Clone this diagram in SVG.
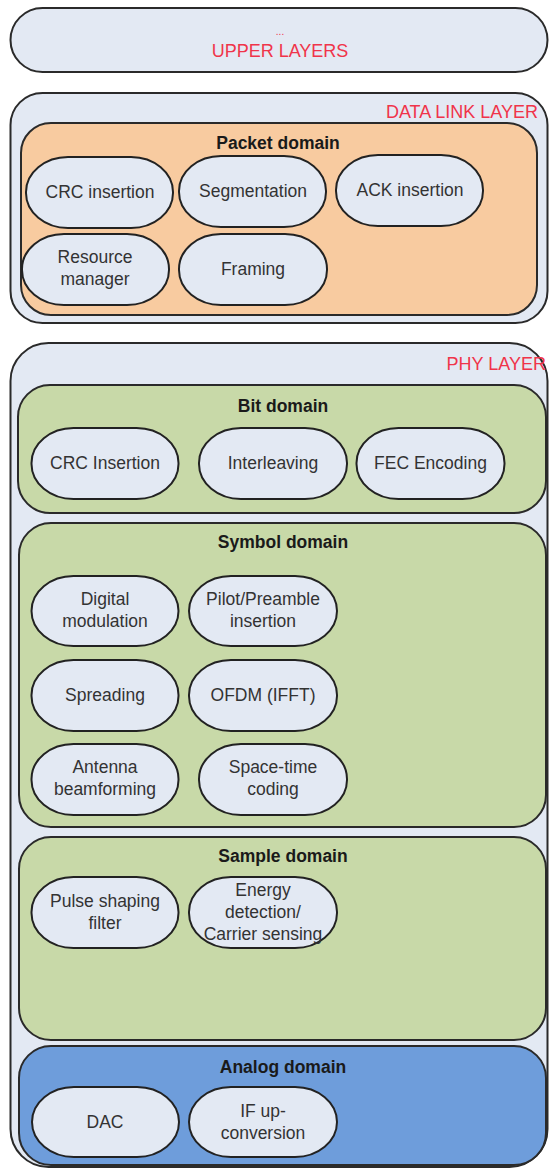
<svg xmlns="http://www.w3.org/2000/svg" width="549" height="1169" viewBox="0 0 549 1169">
<style>
.layer{fill:#e3e9f3;stroke:#2a2a2a;stroke-width:2}
.dom{stroke:#2a2a2a;stroke-width:2}
.pk{fill:#f8cba0}
.gr{fill:#c8d9a8}
.an{fill:#6e9ddb}
.node{fill:#e3e9f3;stroke:#222;stroke-width:2}
.lbl{font-family:"Liberation Sans",Arial,sans-serif;font-size:18px;fill:#f0344a}
.ttl{font-family:"Liberation Sans",Arial,sans-serif;font-size:17.5px;font-weight:bold;fill:#1a1a1a;text-anchor:middle}
.txt{font-family:"Liberation Sans",Arial,sans-serif;font-size:17.5px;fill:#333;text-anchor:middle}
</style>
<rect width="549" height="1169" fill="#ffffff"/>
<g id="upper-layers">
<rect class="layer" x="10.5" y="8" width="537" height="64" rx="32" ry="32"/>
<text class="lbl" x="280" y="35" text-anchor="middle" style="font-size:10px">...</text>
<text class="lbl" x="280" y="57" text-anchor="middle">UPPER LAYERS</text>
</g>
<g id="data-link-layer">
<rect class="layer" x="10.5" y="93" width="537" height="230" rx="32" ry="32"/>
<text class="lbl" x="538" y="118" text-anchor="end">DATA LINK LAYER</text>
</g>
<g id="packet-domain">
<rect class="dom pk" x="21" y="123" width="516" height="192" rx="30" ry="30"/>
<text class="ttl" x="278" y="149">Packet domain</text>
</g>
<g id="crc-insertion-dl"><rect class="node" x="26" y="157" width="147" height="71" rx="42" ry="35"/><text class="txt" x="100" y="198">CRC insertion</text></g>
<g id="segmentation"><rect class="node" x="179" y="156" width="147" height="71" rx="42" ry="35"/><text class="txt" x="253" y="197">Segmentation</text></g>
<g id="ack-insertion"><rect class="node" x="336" y="155" width="147" height="71" rx="42" ry="35"/><text class="txt" x="410" y="196">ACK insertion</text></g>
<g id="resource-manager"><rect class="node" x="22" y="234" width="147" height="71" rx="42" ry="35"/><text class="txt" x="95" y="263">Resource</text><text class="txt" x="95" y="285">manager</text></g>
<g id="framing"><rect class="node" x="179" y="234" width="148" height="71" rx="42" ry="35"/><text class="txt" x="253" y="275">Framing</text></g>
<g id="phy-layer">
<rect class="layer" x="10.5" y="343" width="537" height="824" rx="38" ry="38"/>
<text class="lbl" x="546" y="370" text-anchor="end">PHY LAYER</text>
</g>
<g id="bit-domain">
<rect class="dom gr" x="18" y="385" width="528" height="128" rx="32" ry="32"/>
<text class="ttl" x="283" y="412">Bit domain</text>
</g>
<g id="crc-insertion-phy"><rect class="node" x="31.5" y="428" width="147" height="71" rx="42" ry="35"/><text class="txt" x="105" y="469">CRC Insertion</text></g>
<g id="interleaving"><rect class="node" x="199" y="428" width="148" height="71" rx="42" ry="35"/><text class="txt" x="273" y="469">Interleaving</text></g>
<g id="fec-encoding"><rect class="node" x="356.5" y="428" width="148" height="71" rx="42" ry="35"/><text class="txt" x="430.5" y="469">FEC Encoding</text></g>
<g id="symbol-domain">
<rect class="dom gr" x="19" y="523" width="527" height="304" rx="32" ry="32"/>
<text class="ttl" x="283" y="548">Symbol domain</text>
</g>
<g id="digital-modulation"><rect class="node" x="31.5" y="576" width="147" height="70" rx="42" ry="35"/><text class="txt" x="105" y="605">Digital</text><text class="txt" x="105" y="627">modulation</text></g>
<g id="pilot-preamble"><rect class="node" x="189" y="576" width="148" height="70" rx="42" ry="35"/><text class="txt" x="263" y="605">Pilot/Preamble</text><text class="txt" x="263" y="627">insertion</text></g>
<g id="spreading"><rect class="node" x="31.5" y="660" width="147" height="71" rx="42" ry="35"/><text class="txt" x="105" y="701">Spreading</text></g>
<g id="ofdm"><rect class="node" x="189" y="660" width="148" height="71" rx="42" ry="35"/><text class="txt" x="263" y="701">OFDM (IFFT)</text></g>
<g id="antenna-beamforming"><rect class="node" x="31.5" y="744" width="147" height="71" rx="42" ry="35"/><text class="txt" x="105" y="773">Antenna</text><text class="txt" x="105" y="795">beamforming</text></g>
<g id="space-time-coding"><rect class="node" x="199" y="744" width="148" height="71" rx="42" ry="35"/><text class="txt" x="273" y="773">Space-time</text><text class="txt" x="273" y="795">coding</text></g>
<g id="sample-domain">
<rect class="dom gr" x="19" y="837" width="527" height="203" rx="32" ry="32"/>
<text class="ttl" x="283" y="862">Sample domain</text>
</g>
<g id="pulse-shaping"><rect class="node" x="31.5" y="877" width="147" height="71" rx="42" ry="35"/><text class="txt" x="105" y="907">Pulse shaping</text><text class="txt" x="105" y="929">filter</text></g>
<g id="energy-detection"><rect class="node" x="189" y="877" width="148" height="71" rx="42" ry="35"/><text class="txt" x="263" y="896">Energy</text><text class="txt" x="263" y="918">detection/</text><text class="txt" x="263" y="940">Carrier sensing</text></g>
<g id="analog-domain">
<rect class="dom an" x="19" y="1046" width="527" height="119" rx="32" ry="32"/>
<text class="ttl" x="283" y="1073">Analog domain</text>
</g>
<g id="dac"><rect class="node" x="32" y="1087" width="147" height="70" rx="42" ry="35"/><text class="txt" x="105" y="1128">DAC</text></g>
<g id="if-upconversion"><rect class="node" x="189" y="1087" width="148" height="70" rx="42" ry="35"/><text class="txt" x="263" y="1117">IF up-</text><text class="txt" x="263" y="1139">conversion</text></g>
<g id="connectors"></g>
</svg>
